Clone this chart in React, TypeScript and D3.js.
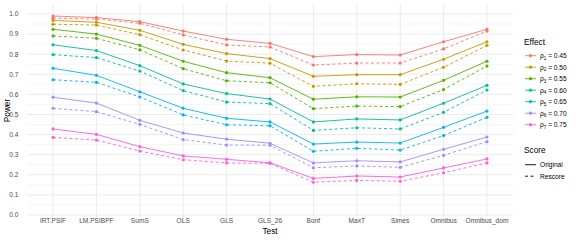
import * as d3 from "d3";

// x categories
const tests = ["IRT.PSIF", "LM.PSIBPF", "SumS", "OLS", "GLS", "GLS_26", "Bonf", "MaxT", "Simes", "Omnibus", "Omnibus_dom"];

// effect levels (legend labels: rho subscript + value)
const effects = ["0.45", "0.50", "0.55", "0.60", "0.65", "0.70", "0.75"];
const effectColors = ["#F8766D", "#C49A00", "#53B400", "#00C094", "#00B6EB", "#A58AFF", "#FB61D7"];

// power values per effect, original scoring
const original = [
  [0.990, 0.982, 0.962, 0.915, 0.874, 0.854, 0.788, 0.798, 0.796, 0.862, 0.924],
  [0.968, 0.959, 0.919, 0.849, 0.803, 0.778, 0.690, 0.698, 0.698, 0.775, 0.862],
  [0.924, 0.900, 0.844, 0.765, 0.708, 0.683, 0.576, 0.588, 0.587, 0.670, 0.765],
  [0.847, 0.818, 0.743, 0.652, 0.604, 0.577, 0.463, 0.478, 0.473, 0.556, 0.645],
  [0.730, 0.695, 0.613, 0.531, 0.481, 0.463, 0.353, 0.363, 0.358, 0.436, 0.517],
  [0.586, 0.557, 0.471, 0.408, 0.377, 0.357, 0.259, 0.270, 0.264, 0.327, 0.388],
  [0.428, 0.401, 0.340, 0.294, 0.277, 0.260, 0.182, 0.194, 0.189, 0.234, 0.279],
];

// power values per effect, rescored
const rescore = [
  [0.979, 0.975, 0.954, 0.896, 0.846, 0.836, 0.746, 0.756, 0.756, 0.826, 0.915],
  [0.949, 0.945, 0.897, 0.821, 0.766, 0.755, 0.640, 0.653, 0.650, 0.735, 0.844],
  [0.891, 0.879, 0.822, 0.728, 0.668, 0.658, 0.529, 0.542, 0.539, 0.624, 0.741],
  [0.798, 0.783, 0.716, 0.619, 0.562, 0.554, 0.421, 0.434, 0.428, 0.511, 0.622],
  [0.673, 0.660, 0.587, 0.498, 0.449, 0.444, 0.317, 0.332, 0.323, 0.395, 0.486],
  [0.531, 0.514, 0.451, 0.375, 0.348, 0.347, 0.235, 0.244, 0.237, 0.297, 0.365],
  [0.386, 0.373, 0.318, 0.275, 0.259, 0.257, 0.163, 0.172, 0.168, 0.210, 0.259],
];

const yTicks = [0, 0.1, 0.2, 0.3, 0.4, 0.5, 0.6, 0.7, 0.8, 0.9, 1.0];
const scoreTypes = ["Original", "Rescore"];

export default function App() {
  const width = 576;
  const height = 240;
  const panel = { left: 27, right: 513, top: 4, bottom: 217 };
  const font = "'Liberation Sans', Arial, sans-serif";

  const x = d3.scalePoint<string>().domain(tests).range([panel.left, panel.right]).padding(0.6);
  const y = d3.scaleLinear().domain([0, 1]).range([215, 14]);
  const minorTicks = d3.range(-0.0, 1.06, 0.05).filter((v) => Math.abs(v * 10 - Math.round(v * 10)) > 0.01);

  const line = d3
    .line<number>()
    .x((_, i) => x(tests[i]) as number)
    .y((d) => y(d));

  const series = [
    { data: rescore, dash: "3,2.5" },
    { data: original, dash: undefined },
  ];

  return (
    <svg width={width} height={height} style={{ position: "absolute", left: 0, top: 0, fontFamily: font }}>
      <rect width={width} height={height} fill="#fff" />
      {/* grid */}
      {minorTicks.map((v) =>
        y(v) >= panel.top && y(v) <= panel.bottom ? (
          <line key={"mi" + v} x1={panel.left} x2={panel.right} y1={y(v)} y2={y(v)} stroke="#EBEBEB" strokeWidth={0.5} />
        ) : null
      )}
      {yTicks.map((v) => (
        <line key={"ma" + v} x1={panel.left} x2={panel.right} y1={y(v)} y2={y(v)} stroke="#EBEBEB" strokeWidth={1} />
      ))}
      {tests.map((t) => (
        <line key={"vx" + t} x1={x(t)} x2={x(t)} y1={panel.top} y2={panel.bottom} stroke="#EBEBEB" strokeWidth={1} />
      ))}

      {/* lines and points */}
      {series.map((s, si) =>
        s.data.map((vals, ei) => (
          <g key={`s${si}-${ei}`}>
            <path d={line(vals) || ""} fill="none" stroke={effectColors[ei]} strokeWidth={0.9} strokeDasharray={s.dash} />
            {vals.map((v, i) => (
              <circle key={i} cx={x(tests[i])} cy={y(v)} r={1.6} fill={effectColors[ei]} />
            ))}
          </g>
        ))
      )}

      {/* y axis labels */}
      {yTicks.map((v) => (
        <text key={"yl" + v} x={18.5} y={y(v)} dy="0.35em" textAnchor="end" fontSize={6.6} fill="#4D4D4D">
          {d3.format(".1f")(v)}
        </text>
      ))}
      {/* x axis labels */}
      {tests.map((t) => (
        <text key={"xl" + t} x={x(t)} y={222.5} textAnchor="middle" fontSize={6.6} fill="#4D4D4D">
          {t}
        </text>
      ))}
      <text x={(panel.left + panel.right) / 2} y={233.5} textAnchor="middle" fontSize={8.3} fill="#000">
        Test
      </text>
      <text transform={`translate(9.5,${(panel.top + panel.bottom) / 2}) rotate(-90)`} textAnchor="middle" fontSize={8.3} fill="#000">
        Power
      </text>

      {/* legend: Effect */}
      <text x={524} y={44.5} fontSize={8.3} fill="#000">Effect</text>
      {effects.map((e, i) => {
        const ky = 55.7 + i * 11.5;
        return (
          <g key={"le" + e}>
            <line x1={525} x2={536} y1={ky} y2={ky} stroke={effectColors[i]} strokeWidth={0.9} />
            <circle cx={530.5} cy={ky} r={1.6} fill={effectColors[i]} />
            <text x={540} y={ky} dy="0.35em" fontSize={6.6} fill="#000">
              ρ<tspan fontSize={4.6} dy="1.5">{i + 1}</tspan>
              <tspan dy="-1.5"> = {e}</tspan>
            </text>
          </g>
        );
      })}

      {/* legend: Score */}
      <text x={524} y={153} fontSize={8.3} fill="#000">Score</text>
      {scoreTypes.map((s, i) => {
        const ky = 164.7 + i * 11.5;
        return (
          <g key={"ls" + s}>
            <line x1={525} x2={536} y1={ky} y2={ky} stroke="#000" strokeWidth={0.9} strokeDasharray={i === 1 ? "3,2.5" : undefined} />
            <text x={540} y={ky} dy="0.35em" fontSize={6.6} fill="#000">{s}</text>
          </g>
        );
      })}
    </svg>
  );
}
